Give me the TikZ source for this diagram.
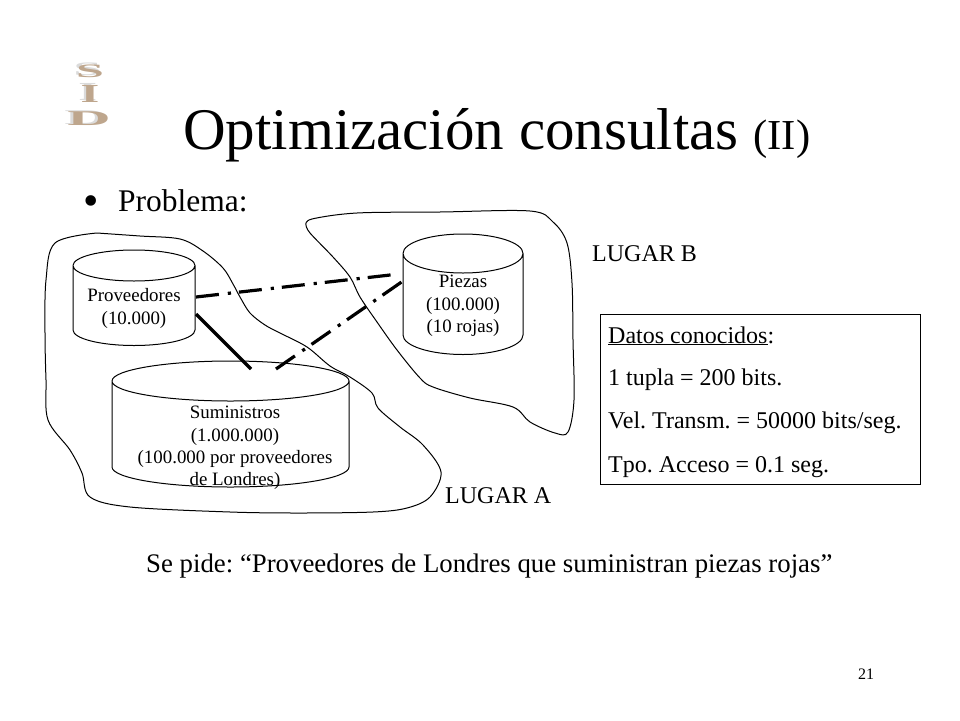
\documentclass[tikz,border=0pt]{standalone}
\usepackage{fontspec}
\setmainfont{Liberation Serif}
\frenchspacing
\newcommand{\fs}[1]{\fontsize{#1}{#1}\selectfont}
\newcommand{\dbcyl}[5]{% name, left, right, top centre y, bottom centre y ; ry from \ry
  \pgfmathsetmacro{\rx}{(#3-#2)/2}
  \draw[thin line] (#2,#4) arc[start angle=180,end angle=0,x radius=\rx,y radius=\ry]
     arc[start angle=0,end angle=-180,x radius=\rx,y radius=\ry] -- (#2,#5)
     arc[start angle=180,end angle=0,x radius=\rx,y radius=\ry] -- (#3,#4);
}
\tikzset{
  thin line/.style={draw=black,line width=1pt},
  region/.style={draw=black,line width=1pt,smooth,tension=0.55},
  link/.style={draw=black,line width=3.2pt},
  linkdd/.style={link,dash pattern=on 23pt off 9pt on 3.2pt off 8pt},
  cyltext/.style={align=center,font=\fs{18.9},inner sep=0pt},
  label/.style={font=\fs{24},inner sep=0pt},
  logo/.style={font=\bfseries\fs{20},inner sep=0pt,transform shape},
}
\begin{document}
\begin{tikzpicture}[x=1pt,y=-1pt]
\useasboundingbox (0,0) rectangle (960,720);
\fill[white] (0,0) rectangle (960,720);
% logo
\foreach \t/\px/\py/\sx/\sy in {S/90/71/2.5/.95,I/90/94/2.4/1.3,D/89/119/3.0/1.05}{
  \begin{scope}[shift={(\px,\py)},xscale=\sx,yscale=\sy]
    \node[logo,text=black!14] at (-1,-1.5) {\t};
    \node[logo,text=brown!55!gray!70] at (0,0) {\t};
  \end{scope}
}
% title
\node[anchor=base west,inner sep=0pt,font=\fs{59}] (title) at (183,149) {Optimización consultas {\fs{42.7}(II)}};
\node[anchor=base,inner sep=0pt,font=\fs{44}] (bullet) at (91,215) {•};
\node[anchor=base west,inner sep=0pt,font=\fs{31.5}] (prob) at (118,211) {Problema:};
% regions
\draw[region] plot coordinates {(97,233) (140,236) (180,239) (203,251) (223,268) (233,284) (240,297) (250,313) (265,325) (280,333) (307,347) (330,366) (350,377) (372,393) (378,408) (400,427) (423,445) (441,472) (430,497) (407,508) (373,512) (300,513) (230,512) (130,507) (90,497) (82,473) (70,450) (48,420) (46,380) (45,333) (46,280) (55,243) (97,233)};
\draw[region] plot coordinates {(306,225) (312,219) (357,213) (440,212) (530,211) (553,222) (567,243) (572,283) (573,340) (574,400) (568,432) (555,433) (530,422) (513,407) (470,398) (433,387) (420,378) (397,350) (377,322) (360,297) (350,277) (333,257) (310,233) (306,225)};
% cylinders
\def\ry{15.5}\dbcyl{prov}{73}{195}{265.5}{330}
\def\ry{20}\dbcyl{sumi}{112}{349}{381}{467}
\def\ry{19.5}\dbcyl{piez}{403}{523}{253.5}{335}
\node[cyltext] (provt) at (134,308.5) {Proveedores\\[4pt](10.000)};
\node[cyltext] (sumit) at (235,448) {Suministros\\[3.5pt](1.000.000)\\[3.5pt](100.000 por proveedores\\[3.5pt]de Londres)};
\node[cyltext] (pieztx) at (463,306) {Piezas\\[3.5pt](100.000)\\[3.5pt](10 rojas)};
% connector ends
\coordinate (provE) at (196,297);
\coordinate (provS) at (196,314);
\coordinate (sumiA) at (251,369);
\coordinate (sumiB) at (276,369);
\coordinate (piezA) at (399,274);
\coordinate (piezB) at (403,281);
\draw[linkdd] (provE) -- (piezA);
\draw[link] (provS) -- (sumiA);
\draw[linkdd] (sumiB) -- (piezB);
% labels
\node[label,anchor=base west] (lugb) at (592,261) {LUGAR B};
\node[label,anchor=base west] (luga) at (445,503) {LUGAR A};
\node[draw=black,line width=1pt,anchor=north west,minimum width=320pt,minimum height=170pt,inner sep=0pt] (box) at (600,314) {};
\node[label,anchor=base west] (d1) at (608,343) {\underline{Datos conocidos}:};
\node[label,anchor=base west] (d2) at (608,385) {1 tupla = 200 bits.};
\node[label,anchor=base west] (d3) at (608,428) {Vel. Transm. = 50000 bits/seg.};
\node[label,anchor=base west] (d4) at (608,472) {Tpo. Acceso = 0.1 seg.};
\node[anchor=base west,inner sep=0pt,font=\fs{26.8}] (pide) at (146,572) {Se pide: “Proveedores de Londres que suministran piezas rojas”};
\node[anchor=base west,inner sep=0pt,font=\fs{16}] (num) at (858,679) {21};
\end{tikzpicture}
\end{document}
